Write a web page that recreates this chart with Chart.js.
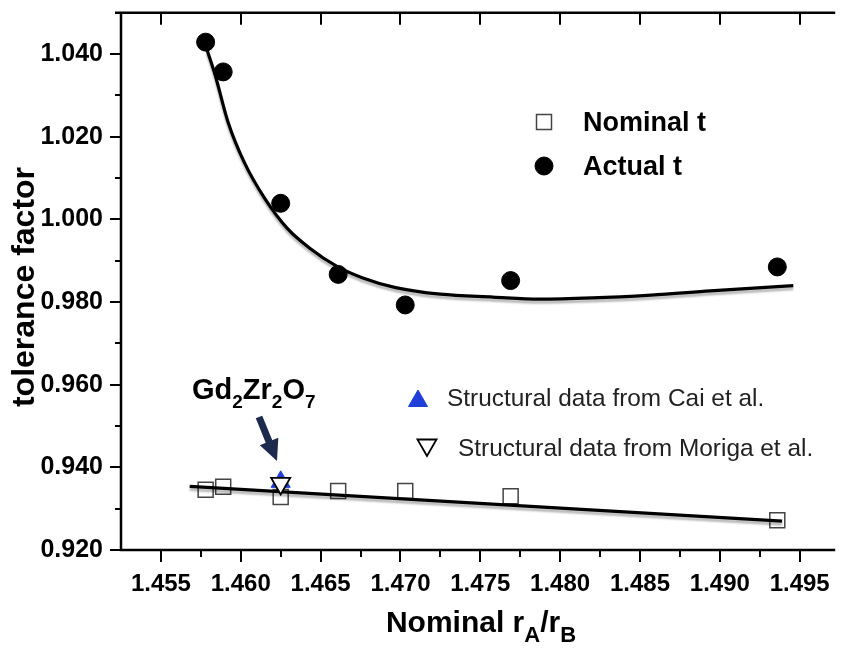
<!DOCTYPE html>
<html>
<head>
<meta charset="utf-8">
<script src="https://cdn.jsdelivr.net/npm/chart.js@4.4.1/dist/chart.umd.min.js"></script>
<style>
  html, body { margin: 0; padding: 0; background: #fff; overflow: hidden; }
  canvas { display: block; }
</style>
</head>
<body>
<canvas id="c" width="846" height="654"></canvas>
<script>
// Nominal rA/rB ratio of each composition
const ratioValues = [1.4578, 1.4589, 1.4625, 1.4661, 1.4703, 1.4769, 1.4936];
// Tolerance factor from nominal radii
const nominalT = [0.9346, 0.9353, 0.9328, 0.9343, 0.9343, 0.9330, 0.9272];
// Tolerance factor from refined structures
const actualT = [1.0429, 1.0357, 1.0039, 0.9867, 0.9793, 0.9852, 0.9885];

// Gd2Zr2O7 reference points
const caiRatio = [1.4625];
const caiT = [0.9365];
const morigaRatio = [1.4625];
const morigaT = [0.9361];

// Fitted trend through the actual t values
const fitActualRatio = [1.4579, 1.4584, 1.4592, 1.4602, 1.4615, 1.4629, 1.4643, 1.4660, 1.4676,
                        1.4697, 1.4725, 1.4758, 1.4787, 1.4820, 1.4857, 1.4894, 1.4946];
const fitActualT = [1.0409, 1.0349, 1.0236, 1.0140, 1.0051, 0.9979, 0.9931, 0.9887, 0.9859,
                    0.9835, 0.9819, 0.9812, 0.9807, 0.9810, 0.9817, 0.9827, 0.9840];
// Linear fit through the nominal t values
const fitNominalRatio = [1.4568, 1.4939];
const fitNominalT = [0.9354, 0.9270];

// Axis ticks
const xTickValues = [1.455, 1.460, 1.465, 1.470, 1.475, 1.480, 1.485, 1.490, 1.495];
const xMinorValues = [1.4575, 1.4625, 1.4675, 1.4725, 1.4775, 1.4825, 1.4875, 1.4925];
const yTickValues = [0.920, 0.940, 0.960, 0.980, 1.000, 1.020, 1.040];
const yMinorValues = [0.930, 0.950, 0.970, 0.990, 1.010, 1.030];

const FONT = "'Liberation Sans', Arial, Helvetica, sans-serif";

function pts(xs, ys) { return xs.map((x, i) => ({ x: x, y: ys[i] })); }

// draws a run of text pieces, some of them as subscripts
function drawRich(ctx, parts, x, y, size, subSize, weight, align) {
  const w = parts.map(p => {
    ctx.font = weight + ' ' + (p.sub ? subSize : size) + 'px ' + FONT;
    return ctx.measureText(p.t).width;
  });
  const total = w.reduce((a, b) => a + b, 0);
  let cx = align === 'center' ? x - total / 2 : x;
  ctx.textAlign = 'left';
  ctx.textBaseline = 'alphabetic';
  parts.forEach((p, i) => {
    ctx.font = weight + ' ' + (p.sub ? subSize : size) + 'px ' + FONT;
    ctx.fillText(p.t, cx, y + (p.sub ? size * 0.32 : 0));
    cx += w[i];
  });
}

function drawMarker(ctx, style, x, y, r, fill, stroke, lw, rotation) {
  ctx.save();
  ctx.fillStyle = fill; ctx.strokeStyle = stroke; ctx.lineWidth = lw;
  Chart.helpers.drawPoint(ctx, { pointStyle: style, radius: r, rotation: rotation || 0, borderWidth: lw }, x, y);
  ctx.restore();
}

// keep the plot frame where it is drawn, without room reserved for edge labels
function noEdgePadding(s) {
  s.paddingTop = 0; s.paddingBottom = 0; s.paddingLeft = 0; s.paddingRight = 0;
}

// frame, tick marks, titles and annotations
const decorations = {
  id: 'decorations',
  beforeDatasetDraw(chart, args) {
    const ds = chart.data.datasets[args.index];
    if (ds.fitShadow) {
      const ctx = chart.ctx;
      ctx.save();
      ctx.shadowColor = 'rgba(0,0,0,0.28)';
      ctx.shadowBlur = 2;
      ctx.shadowOffsetX = 0;
      ctx.shadowOffsetY = 3;
    }
  },
  afterDatasetDraw(chart, args) {
    const ds = chart.data.datasets[args.index];
    if (ds.fitShadow) chart.ctx.restore();
  },
  afterDraw(chart) {
    const ctx = chart.ctx;
    const a = chart.chartArea;
    const xs = chart.scales.x, ys = chart.scales.y;
    ctx.save();
    ctx.strokeStyle = '#000';
    ctx.lineCap = 'butt';

    // axis lines
    ctx.lineWidth = 2.5;
    ctx.beginPath();
    ctx.moveTo(a.left, a.top - 1.25); ctx.lineTo(a.left, a.bottom + 1.25);
    ctx.moveTo(a.left - 1.25, a.bottom); ctx.lineTo(a.right + 2, a.bottom);
    ctx.moveTo(a.left - 6, a.top); ctx.lineTo(a.right + 2, a.top);
    ctx.stroke();

    ctx.lineWidth = 2;
    ctx.beginPath();
    xTickValues.forEach(v => {
      const px = Math.round(xs.getPixelForValue(v));
      ctx.moveTo(px, a.bottom); ctx.lineTo(px, a.bottom + 12);
      ctx.moveTo(px, a.top); ctx.lineTo(px, a.top + 12);
    });
    xMinorValues.forEach(v => {
      const px = Math.round(xs.getPixelForValue(v));
      ctx.moveTo(px, a.bottom); ctx.lineTo(px, a.bottom + 7);
    });
    yTickValues.forEach(v => {
      const py = Math.round(ys.getPixelForValue(v));
      ctx.moveTo(a.left, py); ctx.lineTo(a.left - 11, py);
    });
    yMinorValues.forEach(v => {
      const py = Math.round(ys.getPixelForValue(v));
      ctx.moveTo(a.left, py); ctx.lineTo(a.left - 6, py);
    });
    ctx.stroke();

    ctx.fillStyle = '#000';
    // y title
    ctx.save();
    ctx.translate(34, 287);
    ctx.rotate(-Math.PI / 2);
    ctx.font = 'bold 32px ' + FONT;
    ctx.textAlign = 'center';
    ctx.textBaseline = 'alphabetic';
    ctx.fillText('tolerance factor', 0, 0);
    ctx.restore();

    // x title
    drawRich(ctx, [
      { t: 'Nominal r' }, { t: 'A', sub: true }, { t: '/r' }, { t: 'B', sub: true }
    ], 481, 632, 30, 22, 'bold', 'center');

    // series key
    drawMarker(ctx, 'rect', 544, 122, 10.6, '#fff', '#444', 1.5);
    drawMarker(ctx, 'circle', 544, 166, 9, '#000', '#000', 1);
    ctx.fillStyle = '#000';
    ctx.font = 'bold 27px ' + FONT;
    ctx.textAlign = 'left';
    ctx.textBaseline = 'alphabetic';
    ctx.fillText('Nominal t', 583, 131);
    ctx.fillText('Actual t', 583, 175);

    // reference notes
    drawMarker(ctx, 'triangle', 418, 401, 11, '#1f3fd8', '#1f3fd8', 1);
    drawMarker(ctx, 'triangle', 427, 445, 11, '#fff', '#000', 1.8, 180);
    ctx.fillStyle = '#222';
    ctx.font = '24.4px ' + FONT;
    ctx.fillText('Structural data from Cai et al.', 447, 406);
    ctx.fillText('Structural data from Moriga et al.', 458, 456);

    // compound label
    ctx.fillStyle = '#000';
    drawRich(ctx, [
      { t: 'Gd' }, { t: '2', sub: true }, { t: 'Zr' }, { t: '2', sub: true }, { t: 'O' }, { t: '7', sub: true }
    ], 192, 399, 29, 19, 'bold', 'left');

    // arrow toward the Gd2Zr2O7 point
    const x0 = 259, y0 = 417, x1 = 277, y1 = 461;
    const ang = Math.atan2(y1 - y0, x1 - x0);
    const headLen = 21, headW = 10;
    const bx = x1 - headLen * Math.cos(ang), by = y1 - headLen * Math.sin(ang);
    ctx.strokeStyle = '#1d2a4d';
    ctx.fillStyle = '#1d2a4d';
    ctx.lineWidth = 7;
    ctx.beginPath();
    ctx.moveTo(x0, y0); ctx.lineTo(bx + 2 * Math.cos(ang), by + 2 * Math.sin(ang));
    ctx.stroke();
    ctx.beginPath();
    ctx.moveTo(x1, y1);
    ctx.lineTo(bx + headW * Math.sin(ang), by - headW * Math.cos(ang));
    ctx.lineTo(bx - headW * Math.sin(ang), by + headW * Math.cos(ang));
    ctx.closePath();
    ctx.fill();

    ctx.restore();
  }
};

new Chart(document.getElementById('c'), {
  type: 'scatter',
  data: {
    datasets: [
      {
        label: 'Structural data from Moriga et al.',
        data: pts(morigaRatio, morigaT),
        pointStyle: 'triangle', rotation: 180, pointRadius: 11,
        backgroundColor: '#fff', borderColor: '#000', borderWidth: 1.8,
        order: 1
      },
      {
        label: 'Structural data from Cai et al.',
        data: pts(caiRatio, caiT),
        pointStyle: 'triangle', pointRadius: 11,
        backgroundColor: '#1f3fd8', borderColor: '#1f3fd8', borderWidth: 1,
        order: 2
      },
      {
        label: 'Actual t',
        data: pts(ratioValues, actualT),
        pointStyle: 'circle', pointRadius: 9,
        backgroundColor: '#000', borderColor: '#000', borderWidth: 1,
        order: 3
      },
      {
        label: 'Actual t fit',
        data: pts(fitActualRatio, fitActualT),
        showLine: true, pointRadius: 0, borderColor: '#000', borderWidth: 3.2,
        cubicInterpolationMode: 'monotone', fitShadow: true,
        order: 4
      },
      {
        label: 'Nominal t fit',
        data: pts(fitNominalRatio, fitNominalT),
        showLine: true, pointRadius: 0, borderColor: '#000', borderWidth: 3.2,
        fitShadow: true,
        order: 4
      },
      {
        label: 'Nominal t',
        data: pts(ratioValues, nominalT),
        pointStyle: 'rect', pointRadius: 10.6,
        backgroundColor: 'rgba(255,255,255,0)', borderColor: '#444', borderWidth: 1.5,
        order: 5
      }
    ]
  },
  options: {
    responsive: false,
    animation: false,
    devicePixelRatio: 1,
    layout: { padding: { left: 0, right: 0, top: 10, bottom: 0 } },
    plugins: { legend: { display: false }, tooltip: { enabled: false } },
    scales: {
      x: {
        type: 'linear', position: 'bottom',
        min: 1.4525, max: 1.4971,
        grid: { display: false, drawTicks: false },
        border: { display: false },
        afterBuildTicks: s => { s.ticks = xTickValues.map(v => ({ value: v })); },
        afterFit: s => { s.height = 104; noEdgePadding(s); },
        ticks: {
          padding: 20, color: '#000', maxRotation: 0, autoSkip: false,
          font: { family: FONT, size: 24, weight: 'bold' },
          callback: v => Number(v).toFixed(3)
        }
      },
      y: {
        type: 'linear', position: 'left',
        min: 0.920, max: 1.050,
        grid: { display: false, drawTicks: false },
        border: { display: false },
        afterBuildTicks: s => { s.ticks = yTickValues.map(v => ({ value: v })); },
        afterFit: s => { s.width = 121; noEdgePadding(s); },
        ticks: {
          padding: 18, color: '#000', autoSkip: false,
          font: { family: FONT, size: 25, weight: 'bold' },
          callback: v => Number(v).toFixed(3)
        }
      }
    }
  },
  plugins: [decorations]
});
</script>
</body>
</html>
